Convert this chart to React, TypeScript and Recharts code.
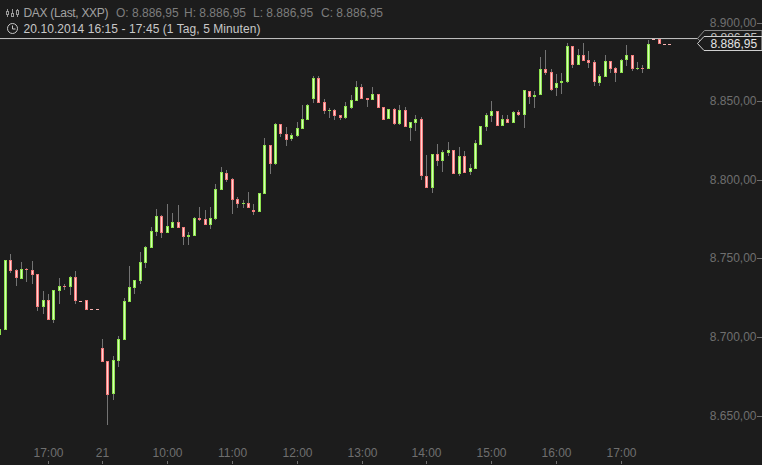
import React from "react";
import { ComposedChart, Bar, XAxis, YAxis, ReferenceLine } from "recharts";

const opens = [8701.6,8704.8,8749.3,8742.9,8737.2,8743.6,8742.9,8740.4,8719.4,8723.8,8711.1,8729.6,8732.7,8732.1,8738.5,8723.5,8723.8,8717.9,8717.9,8693.3,8685.0,8664.1,8685.0,8698.4,8722.6,8731.5,8735.9,8747.4,8756.9,8767.1,8777.2,8766.4,8769.6,8773.4,8770.3,8763.9,8764.5,8776.0,8775.3,8771.5,8775.3,8793.8,8804.6,8800.8,8788.1,8784.9,8785.5,8781.1,8779.8,8791.2,8822.4,8810.3,8835.8,8829.4,8826.2,8828.1,8832.6,8838.3,8851.7,8865.0,8849.8,8844.0,8844.7,8841.5,8839.6,8845.9,8850.4,8859.3,8852.3,8851.0,8854.8,8846.6,8838.9,8845.3,8835.8,8844.7,8833.2,8836.4,8838.9,8802.7,8795.1,8816.7,8812.2,8817.3,8819.2,8804.0,8815.4,8805.2,8807.1,8822.4,8833.9,8840.9,8844.0,8834.5,8838.9,8836.4,8843.4,8841.5,8856.8,8852.9,8854.2,8870.7,8868.8,8858.7,8861.8,8862.5,8885.4,8873.3,8879.6,8876.5,8875.2,8861.8,8865.7,8875.8,8871.4,8868.2,8876.5,8879.6,8870.7,8871.4,8870.7,8889.6,8889.8,8886.95,8886.95];
const highs = [8711.8,8749.3,8753.1,8743.6,8748.0,8744.2,8748.6,8740.4,8729.6,8727.7,8730.2,8737.8,8734.0,8739.1,8742.3,8723.5,8723.8,8717.9,8717.9,8699.0,8685.0,8688.2,8700.9,8725.1,8745.5,8736.6,8754.4,8758.2,8770.2,8781.7,8777.9,8784.9,8779.2,8784.2,8770.3,8767.1,8776.6,8783.0,8781.1,8783.0,8797.6,8808.4,8806.5,8801.4,8789.3,8787.4,8792.5,8784.9,8791.9,8826.9,8822.4,8836.4,8835.8,8833.9,8830.0,8837.0,8847.9,8848.5,8866.3,8866.3,8851.7,8846.0,8845.3,8841.5,8849.8,8854.2,8863.1,8861.2,8852.3,8859.3,8854.8,8846.6,8845.3,8846.0,8847.9,8846.6,8837.0,8841.5,8840.2,8816.1,8816.7,8823.0,8819.2,8824.3,8819.2,8821.1,8818.6,8810.3,8825.6,8834.5,8842.8,8850.4,8844.0,8841.5,8841.5,8844.0,8844.7,8857.4,8856.8,8856.8,8878.4,8882.8,8870.7,8867.6,8868.2,8887.3,8885.4,8883.5,8887.3,8882.2,8876.5,8867.6,8879.6,8875.8,8872.0,8877.1,8886.0,8879.6,8875.2,8873.3,8889.2,8889.6,8889.8,8886.95,8886.95];
const lows = [8699.9,8704.8,8741.0,8732.7,8737.2,8735.3,8734.0,8716.8,8714.9,8711.1,8709.2,8721.3,8730.2,8727.0,8721.3,8723.5,8717.5,8717.9,8717.9,8684.4,8644.3,8660.2,8681.2,8698.4,8722.6,8727.7,8734.0,8744.2,8756.9,8764.5,8763.3,8766.4,8769.6,8769.6,8758.8,8758.8,8764.5,8774.1,8771.5,8769.0,8774.7,8793.8,8798.9,8778.5,8782.3,8782.3,8782.3,8777.9,8779.8,8791.2,8804.0,8809.7,8827.5,8821.8,8825.0,8827.5,8832.6,8838.3,8849.1,8849.1,8842.1,8839.6,8838.3,8838.3,8839.0,8845.3,8850.4,8851.7,8846.6,8851.0,8845.9,8838.3,8838.9,8835.1,8835.1,8833.9,8825.0,8831.3,8800.2,8795.1,8791.9,8809.1,8805.2,8815.4,8804.0,8802.7,8804.6,8803.3,8807.1,8822.4,8831.3,8837.0,8834.5,8834.5,8836.4,8836.4,8840.9,8833.2,8848.5,8846.0,8854.2,8866.9,8856.8,8853.6,8854.8,8861.8,8871.4,8873.3,8875.8,8871.4,8859.9,8859.9,8865.7,8868.2,8862.5,8868.2,8872.7,8869.5,8870.1,8868.2,8870.7,8889.6,8886.6,8886.95,8886.95];
const closes = [8705.2,8749.3,8742.3,8737.8,8743.6,8742.9,8739.7,8719.4,8723.8,8711.1,8730.2,8732.7,8732.1,8738.5,8723.2,8723.5,8717.5,8717.9,8717.9,8684.4,8663.4,8685.7,8699.0,8723.2,8732.1,8736.6,8748.0,8757.5,8767.7,8777.2,8766.4,8770.9,8773.4,8769.6,8763.9,8765.2,8776.0,8774.7,8771.5,8776.0,8794.4,8805.2,8800.1,8787.4,8784.9,8785.5,8782.3,8779.8,8791.9,8822.4,8810.3,8835.8,8829.4,8825.6,8828.8,8833.2,8838.9,8847.9,8865.0,8849.1,8844.0,8844.7,8840.9,8839.6,8847.2,8851.0,8859.3,8851.7,8851.0,8854.8,8845.9,8838.3,8845.3,8835.8,8844.7,8833.9,8837.0,8838.9,8802.7,8795.1,8816.7,8812.2,8818.0,8819.2,8804.0,8815.4,8804.6,8807.8,8823.7,8834.5,8841.5,8844.0,8834.5,8838.9,8836.4,8843.4,8841.5,8857.4,8852.9,8854.2,8870.7,8868.2,8857.4,8861.8,8863.1,8885.4,8873.3,8879.6,8875.8,8874.6,8862.5,8866.3,8875.8,8870.7,8868.2,8876.5,8879.6,8870.7,8871.4,8870.7,8886.6,8889.6,8886.6,8886.95,8886.95];

const xTickIndex = [9, 19, 31, 43, 55, 67, 79, 91, 103, 115];
const xTickLabels = ["17:00", "21", "10:00", "11:00", "12:00", "13:00", "14:00", "15:00", "16:00", "17:00"];
const yTicks = [8650, 8700, 8750, 8800, 8850, 8900];
const yTickLabels = ["8.650,00", "8.700,00", "8.750,00", "8.800,00", "8.850,00", "8.900,00"];
const topLine = 8890.1;
const lastPrice = "8.886,95";

const data = opens.map((o, i) => ({
  i,
  open: o,
  high: highs[i],
  low: lows[i],
  close: closes[i],
  range: [lows[i], highs[i]],
}));

const FONT = "'Liberation Sans', Arial, sans-serif";
const BG = "#1c1c1c";
const AXIS = "#6f6f6f";

function Candle(props: any) {
  const { x, y, width, height, payload } = props;
  const col = Math.floor(x + width / 2);
  const span = payload.high - payload.low;
  const up = payload.close > payload.open;
  const edge = up ? "#8ee24e" : "#f27c7c";
  const core = up ? "#d4ffb4" : "#ffd2d2";
  if (span === 0) {
    return <rect x={col - 1} y={Math.round(y)} width={3} height={1} fill="#f5b0b0" />;
  }
  const k = height / span;
  const pO = y + (payload.high - payload.open) * k;
  const pC = y + (payload.high - payload.close) * k;
  const top = Math.round(Math.min(pO, pC));
  const bottom = Math.max(Math.round(Math.max(pO, pC)), top + 1);
  const h = bottom - top;
  return (
    <g>
      <rect x={col} y={Math.round(y)} width={1} height={Math.max(1, Math.round(height))} fill="#737373" />
      <rect x={col - 1} y={top} width={3} height={h} fill={edge} />
      {h > 2 ? <rect x={col} y={top + 1} width={1} height={h - 2} fill={core} /> : null}
    </g>
  );
}

function XTick(props: any) {
  const { x, payload } = props;
  const col = Math.floor(x);
  const label = xTickLabels[xTickIndex.indexOf(payload.value)];
  return (
    <g>
      <rect x={col} y={461} width={1} height={3} fill={AXIS} />
      <text x={col + 0.5} y={457} textAnchor="middle" fontFamily={FONT} fontSize={12} fill={AXIS}>
        {label}
      </text>
    </g>
  );
}

function YTick(props: any) {
  const { y, payload } = props;
  const label = yTickLabels[yTicks.indexOf(payload.value)];
  const row = Math.floor(y);
  return (
    <g>
      <rect x={757} y={row} width={5} height={1} fill={AXIS} />
      <text x={756.5} y={row + 4} textAnchor="end" fontFamily={FONT} fontSize={12} fill={AXIS}>
        {label}
      </text>
    </g>
  );
}

function Overlay() {
  const t = { fontFamily: FONT, fontSize: 12 };
  return (
    <svg width={762} height={465} style={{ position: "absolute", left: 0, top: 0, pointerEvents: "none" }}>
      <g stroke="#9a9a9a" strokeWidth={1} fill="none">
        <path d="M7.5 9v8M12.5 9v8M17.5 9v8" />
        <rect x={6.5} y={11.5} width={2} height={3} fill={BG} />
        <rect x={11.5} y={13.5} width={2} height={3} fill={BG} />
        <rect x={16.5} y={10.5} width={2} height={4} fill={BG} />
      </g>
      <text x={23.5} y={17} {...t} fill="#a2a2a2" textLength={85} lengthAdjust="spacing">DAX (Last, XXP)</text>
      <text x={116} y={17} {...t} fill="#7c7c7c">O: 8.886,95</text>
      <text x={184} y={17} {...t} fill="#7c7c7c">H: 8.886,95</text>
      <text x={253} y={17} {...t} fill="#7c7c7c">L: 8.886,95</text>
      <text x={321} y={17} {...t} fill="#7c7c7c">C: 8.886,95</text>
      <circle cx={12.5} cy={28.5} r={5} stroke="#c8c8c8" strokeWidth={1} fill="none" />
      <path d="M12.5 25.5v3.5h3" stroke="#c8c8c8" strokeWidth={1} fill="none" />
      <text x={23.5} y={33} {...t} fill="#c8c8c8" textLength={237} lengthAdjust="spacing">20.10.2014 16:15 - 17:45 (1 Tag, 5 Minuten)</text>
      <polygon points="762,30.5 704.5,30.5 697.5,38.5 704.5,45 762,45" fill={BG} stroke="#8a8a8a" />
      <text x={710.5} y={42} {...t} fill="#c0c0c0">{lastPrice}</text>
      <polygon points="762,36.5 704,36.5 697.5,43.5 704,50.5 762,50.5" fill={BG} stroke="#cfcfcf" />
      <text x={710.5} y={48} {...t} fill="#e4e4e4">{lastPrice}</text>
    </svg>
  );
}

export default function App() {
  return (
    <div style={{ position: "absolute", left: 0, top: 0, width: 762, height: 465, background: BG, overflow: "hidden" }}>
      <ComposedChart width={762} height={465} data={data} margin={{ top: 0, right: 0, bottom: 0, left: 0 }}>
        <XAxis
          type="number"
          dataKey="i"
          domain={[0, 140.8]}
          ticks={xTickIndex}
          height={1}
          axisLine={false}
          tickLine={false}
          tick={XTick}
          interval={0}
          allowDataOverflow
        />
        <YAxis
          type="number"
          orientation="right"
          width={1}
          domain={[8619.53, 8914.63]}
          ticks={yTicks}
          axisLine={false}
          tickLine={false}
          tick={YTick}
          interval={0}
          allowDataOverflow
        />
        <ReferenceLine y={topLine} stroke="#c8c8c8" strokeWidth={1} segment={[{ x: 0, y: topLine }, { x: 129.5, y: topLine }]} />
        <Bar dataKey="range" barSize={3} shape={Candle} isAnimationActive={false} />
      </ComposedChart>
      <Overlay />
    </div>
  );
}
